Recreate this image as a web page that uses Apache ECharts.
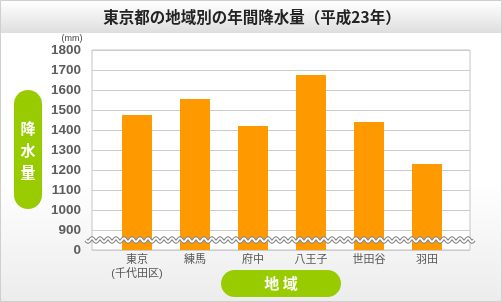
<!DOCTYPE html>
<html><head><meta charset="utf-8">
<script src="https://cdn.jsdelivr.net/npm/echarts@6/dist/echarts.min.js"></script>
<style>html,body{margin:0;padding:0;background:#fff}#c{width:502px;height:302px}</style>
</head><body><div id="c"></div>
<script>
const chartTitle = '東京都の地域別の年間降水量（平成23年）';
const categories = ['東京\n(千代田区)', '練馬', '府中', '八王子', '世田谷', '羽田'];
const rainfall = [1475, 1555, 1420, 1675, 1440, 1230];
const yMin = 800, yMax = 1800, yStep = 100;
const yBreakLabel = '0';
const yUnit = '(mm)';
const yName = ['降', '水', '量'];
const xName = '地 域';

const FONT = '"Liberation Sans", Arial, "Noto Sans CJK JP", sans-serif';
const chart = echarts.init(document.getElementById('c'), null, {renderer: 'canvas'});

const option = {
  animation: false,
  backgroundColor: {
    type: 'linear', x: 0, y: 0, x2: 0, y2: 1,
    colorStops: [{offset: 0, color: '#ffffff'}, {offset: 0.6, color: '#ffffff'}, {offset: 1, color: '#ececec'}]
  },
  grid: [
    {left: 92, right: 32, top: 50, bottom: 52, show: true, borderColor: '#c4c4c4', borderWidth: 1, backgroundColor: '#fff'},
    {left: 108, right: 46, top: 50, bottom: 52}
  ],
  xAxis: [
    {type: 'value', gridIndex: 0, min: 0, max: 1, show: false},
    {
      type: 'category', gridIndex: 1, data: categories,
      axisLine: {show: false}, axisTick: {show: false},
      axisLabel: {interval: 0, color: '#555', fontSize: 11, fontFamily: FONT, lineHeight: 14, margin: 3}
    }
  ],
  yAxis: [
    {
      type: 'value', gridIndex: 0, min: yMin, max: yMax, interval: yStep,
      axisLine: {show: false}, axisTick: {show: false},
      splitLine: {lineStyle: {color: '#cccccc', width: 1}},
      axisLabel: {
        color: '#5c5c5c', fontSize: 13.5, fontWeight: 'bold', fontFamily: FONT, margin: 11,
        formatter: v => v === yMin ? yBreakLabel : String(v)
      }
    },
    {type: 'value', gridIndex: 1, min: yMin, max: yMax, interval: yStep, show: false, splitLine: {show: false}}
  ],
  series: [{
    type: 'bar', xAxisIndex: 1, yAxisIndex: 1, data: rainfall,
    barWidth: 30, itemStyle: {color: '#ff9900'}
  }],
  graphic: []
};
chart.setOption(option);

const g = [];
g.push({type: 'rect', shape: {x: 0.5, y: 0.5, width: 501, height: 301}, style: {fill: 'none', stroke: '#cfcfcf', lineWidth: 1}, z: 1});
g.push({type: 'rect', shape: {x: 1, y: 1, width: 500, height: 32},
  style: {fill: {type: 'linear', x: 0, y: 0, x2: 0, y2: 1, colorStops: [{offset: 0, color: '#ffffff'}, {offset: 1, color: '#dedede'}]}}, z: 0});
g.push({type: 'text', x: 252, y: 17, style: {text: chartTitle, fill: '#222', font: 'bold 15.5px "Noto Sans CJK JP", sans-serif', align: 'center', verticalAlign: 'middle'}, z: 5});
g.push({type: 'text', x: 72, y: 39, style: {text: yUnit, fill: '#444', font: '9px ' + FONT, align: 'center', verticalAlign: 'middle'}, z: 5});
g.push({type: 'rect', shape: {x: 14, y: 90, width: 28, height: 119, r: 14}, style: {fill: '#99cc00'}, z: 5});
yName.forEach((ch, i) => {
  g.push({type: 'text', x: 28, y: 128 + i * 22, style: {text: ch, fill: '#fff', font: 'bold 15px "Noto Sans CJK JP", sans-serif', align: 'center', verticalAlign: 'middle'}, z: 6});
});
g.push({type: 'rect', shape: {x: 221, y: 270, width: 120, height: 27, r: 13.5}, style: {fill: '#99cc00'}, z: 5});
g.push({type: 'text', x: 281, y: 283.5, style: {text: xName, fill: '#fff', font: 'bold 15px "Noto Sans CJK JP", sans-serif', align: 'center', verticalAlign: 'middle'}, z: 6});
const yb = chart.convertToPixel({yAxisIndex: 0}, (yMin + yMin + yStep) / 2);
const pts = [];
for (let x = 86; x <= 474; x += 1) pts.push([x, yb + 1.8 * Math.sin((x - 86) / 8 * 2 * Math.PI)]);
g.push({type: 'polyline', shape: {points: pts}, style: {stroke: '#888', lineWidth: 4, fill: 'none'}, z: 10});
g.push({type: 'polyline', shape: {points: pts}, style: {stroke: '#fff', lineWidth: 1.8, fill: 'none'}, z: 11});
chart.setOption({graphic: g});
</script></body></html>
